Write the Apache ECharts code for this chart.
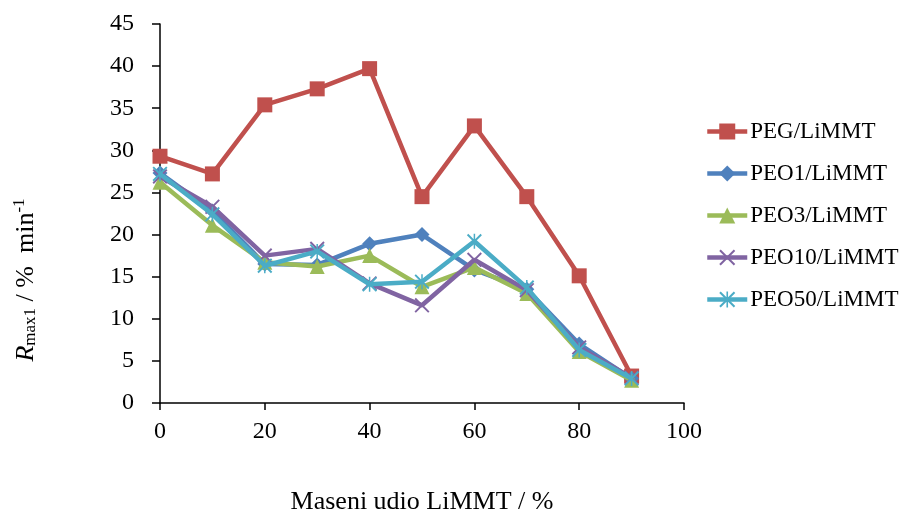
<!DOCTYPE html>
<html><head><meta charset="utf-8">
<script src="https://cdn.jsdelivr.net/npm/echarts@6/dist/echarts.min.js"></script>
<style>html,body{margin:0;padding:0;background:#fff}#c{width:902px;height:512px}</style>
</head><body><div id="c"></div>
<script>
const xValues = [0, 10, 20, 30, 40, 50, 60, 70, 80, 90];
const seriesNames = ['PEG/LiMMT', 'PEO1/LiMMT', 'PEO3/LiMMT', 'PEO10/LiMMT', 'PEO50/LiMMT'];
const pegValues   = [29.3, 27.2, 35.4, 37.3, 39.7, 24.5, 32.9, 24.5, 15.1, 3.2];
const peo1Values  = [27.3, 22.8, 16.5, 16.4, 18.9, 20.0, 15.8, 13.5, 7.0, 2.9];
const peo3Values  = [26.2, 21.1, 16.7, 16.2, 17.5, 13.8, 16.1, 13.0, 6.1, 2.7];
const peo10Values = [26.9, 23.3, 17.5, 18.3, 14.2, 11.6, 17.0, 13.4, 6.6, 3.0];
const peo50Values = [27.2, 22.4, 16.3, 18.0, 14.1, 14.4, 19.2, 13.7, 6.3, 2.9];
const yTicks = { min: 0, max: 45, interval: 5 };
const xTicks = { min: 0, max: 100, interval: 20 };

const colors = ['#C0504D', '#4F81BD', '#9BBB59', '#8064A2', '#4BACC6'];
const xSym = 'path://M0,0.9 L0.9,0 L10,9.1 L9.1,10 Z M10,0.9 L0.9,10 L0,9.1 L9.1,0 Z';
const starSym = 'path://M0,0.9 L0.9,0 L10,9.1 L9.1,10 Z M10,0.9 L0.9,10 L0,9.1 L9.1,0 Z M4.5,0 L5.5,0 L5.5,10 L4.5,10 Z';
const symbols = ['rect', 'diamond', 'triangle', xSym, starSym];
const sizes = [15, 15, 15, 15, 15];
const allValues = [pegValues, peo1Values, peo3Values, peo10Values, peo50Values];
const font = 'Liberation Serif';

const chart = echarts.init(document.getElementById('c'), null, { renderer: 'canvas' });
chart.setOption({
  animation: false,
  backgroundColor: '#fff',
  textStyle: { fontFamily: font },
  grid: { left: 160, right: 218, top: 24, bottom: 109, containLabel: false, outerBoundsMode: 'none' },
  legend: {
    orient: 'vertical', left: 705, top: 120, padding: 0,
    itemWidth: 40, itemHeight: 20, itemGap: 19,
    textStyle: { fontFamily: font, fontSize: 23, color: '#000', padding: [0, 0, 0, -2] },
    lineStyle: { width: 4.5 },
    data: seriesNames
  },
  xAxis: {
    type: 'value', min: xTicks.min, max: xTicks.max, interval: xTicks.interval,
    name: 'Maseni udio LiMMT / %', nameLocation: 'middle', nameGap: 86,
    nameTextStyle: { fontFamily: font, fontSize: 26, color: '#000' },
    axisLine: { show: true, lineStyle: { color: '#000', width: 1.5 } },
    axisTick: { show: true, length: 7, lineStyle: { color: '#000', width: 1.5 } },
    axisLabel: { fontFamily: font, fontSize: 24, color: '#000', margin: 17 },
    splitLine: { show: false }
  },
  yAxis: {
    type: 'value', min: yTicks.min, max: yTicks.max, interval: yTicks.interval,
    axisLine: { show: true, lineStyle: { color: '#000', width: 1.5 } },
    axisTick: { show: true, length: 8, lineStyle: { color: '#000', width: 1.5 } },
    axisLabel: { fontFamily: font, fontSize: 24, color: '#000', margin: 26 },
    splitLine: { show: false }
  },
  graphic: [{
    type: 'text', x: 25, y: 280, rotation: Math.PI / 2,
    style: {
      text: '{i|R}{sub|max1}{n| / %  min}{sup|-1}',
      align: 'center', verticalAlign: 'middle',
      fill: '#000',
      rich: {
        i: { fontFamily: font, fontSize: 26, fontStyle: 'italic', fill: '#000', verticalAlign: 'bottom' },
        sub: { fontFamily: font, fontSize: 17, fill: '#000', padding: [9, 0, 0, 0], verticalAlign: 'bottom' },
        n: { fontFamily: font, fontSize: 26, fill: '#000', verticalAlign: 'bottom' },
        sup: { fontFamily: font, fontSize: 17, fill: '#000', padding: [0, 0, 11, 0], verticalAlign: 'bottom' }
      }
    }
  }],
  series: seriesNames.map((name, i) => ({
    name, type: 'line',
    data: xValues.map((x, j) => [x, allValues[i][j]]),
    symbol: symbols[i], symbolSize: sizes[i],
    lineStyle: { color: colors[i], width: 4.5 },
    itemStyle: { color: colors[i] },
    z: 2 + i
  }))
});
</script></body></html>
